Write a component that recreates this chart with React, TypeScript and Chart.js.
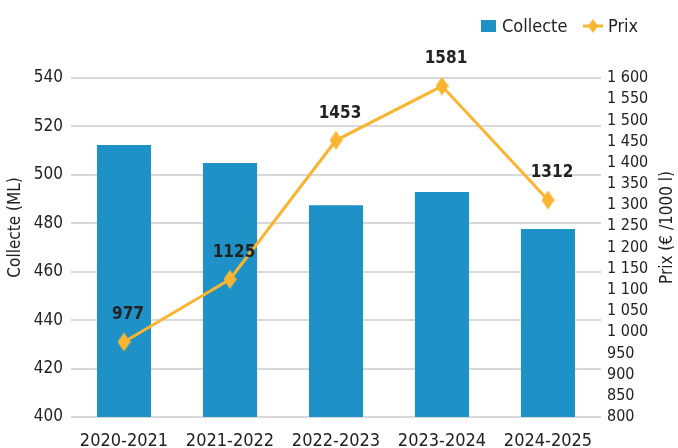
import React, { useEffect, useRef } from "react";
import { Chart, registerables } from "chart.js";

Chart.register(...registerables);

const categories = ["2020-2021", "2021-2022", "2022-2023", "2023-2024", "2024-2025"];
const collecte = [512.3, 504.9, 487.5, 492.9, 477.6];
const prix = [977, 1125, 1453, 1581, 1312];
const leftTitle = "Collecte (ML)";
const rightTitle = "Prix (€ /1000 l)";
const legendLabels = ["Collecte", "Prix"];

const BAR_COLOR = "#1E91C7";
const LINE_COLOR = "#F9B531";
const TEXT = "#222222";
const FONT = "'Liberation Sans Narrow', 'DejaVu Sans Condensed', 'Roboto Condensed', sans-serif";

function makeDiamond(w: number, h: number, color: string) {
  const c = document.createElement("canvas");
  c.width = w;
  c.height = h;
  const ctx = c.getContext("2d")!;
  ctx.fillStyle = color;
  ctx.beginPath();
  ctx.moveTo(w / 2, 0);
  ctx.lineTo(w, h / 2);
  ctx.lineTo(w / 2, h);
  ctx.lineTo(0, h / 2);
  ctx.closePath();
  ctx.fill();
  return c;
}

export default function App() {
  const ref = useRef<HTMLCanvasElement>(null);
  useEffect(() => {
    document.body.style.margin = "0";
    const diamond = makeDiamond(13, 19, LINE_COLOR);

    const extras = {
      id: "extras",
      afterDatasetsDraw(chart: any) {
        const ctx = chart.ctx;
        const meta = chart.getDatasetMeta(0);
        ctx.save();
        ctx.fillStyle = TEXT;
        ctx.font = `bold 17px ${FONT}`;
        ctx.textAlign = "center";
        ctx.textBaseline = "middle";
        meta.data.forEach((pt: any, i: number) => {
          ctx.fillText(String(prix[i]), pt.x + 4, pt.y - 27);
        });
        ctx.restore();
      },
      afterDraw(chart: any) {
        const ctx = chart.ctx;
        const area = chart.chartArea;
        ctx.save();
        ctx.fillStyle = TEXT;
        ctx.font = `17px ${FONT}`;
        ctx.textAlign = "center";
        ctx.textBaseline = "middle";
        const cy = (area.top + area.bottom) / 2 - 20;
        ctx.save();
        ctx.translate(16, cy);
        ctx.rotate(-Math.PI / 2);
        ctx.fillText(leftTitle, 0, 0);
        ctx.restore();
        ctx.save();
        ctx.translate(668, cy);
        ctx.rotate(-Math.PI / 2);
        ctx.fillText(rightTitle, 0, 0);
        ctx.restore();
        // legend
        ctx.font = `18px ${FONT}`;
        ctx.fillStyle = BAR_COLOR;
        ctx.fillRect(481, 20, 15, 12);
        ctx.fillStyle = TEXT;
        ctx.textAlign = "left";
        ctx.fillText(legendLabels[0], 502, 27);
        ctx.strokeStyle = LINE_COLOR;
        ctx.lineWidth = 3;
        ctx.beginPath();
        ctx.moveTo(583, 26);
        ctx.lineTo(603, 26);
        ctx.stroke();
        ctx.drawImage(diamond, 593 - 5, 26 - 7, 10, 14);
        ctx.fillText(legendLabels[1], 608, 27);
        ctx.restore();
      },
    };

    const chart = new Chart(ref.current!, {
      type: "bar",
      data: {
        labels: categories,
        datasets: [
          {
            type: "line",
            label: "Prix",
            data: prix,
            yAxisID: "y1",
            borderColor: LINE_COLOR,
            backgroundColor: LINE_COLOR,
            borderWidth: 3,
            pointStyle: diamond as any,
            pointRadius: 8,
            tension: 0,
            order: 0,
          } as any,
          {
            type: "bar",
            label: "Collecte",
            data: collecte,
            yAxisID: "y",
            backgroundColor: BAR_COLOR,
            barPercentage: 0.51,
            categoryPercentage: 1,
            order: 1,
          },
        ],
      },
      options: {
        animation: false,
        responsive: false,
        maintainAspectRatio: false,
        layout: { padding: { top: 78, left: 0, right: 0, bottom: 0 } },
        plugins: { legend: { display: false }, tooltip: { enabled: false } },
        scales: {
          x: {
            offset: true,
            grid: { display: false },
            border: { display: false },
            ticks: { color: TEXT, font: { family: FONT, size: 18 }, padding: 6, maxRotation: 0 },
            afterFit(s: any) { s.height = 31; },
          },
          y: {
            position: "left",
            min: 400,
            max: 540,
            ticks: { stepSize: 20, color: TEXT, font: { family: FONT, size: 17 }, padding: 8 },
            grid: { color: "#D9D9D9", lineWidth: 2, drawTicks: false },
            border: { display: false },
            afterFit(s: any) { s.width = 71; },
          },
          y1: {
            position: "right",
            min: 800,
            max: 1600,
            grid: { display: false, drawTicks: false },
            border: { display: false },
            ticks: {
              stepSize: 50,
              autoSkip: false,
              color: TEXT,
              font: { family: FONT, size: 16 },
              padding: 6,
              callback: (v: any) => {
                const n = Number(v);
                return n >= 1000 ? `${Math.floor(n / 1000)} ${String(n % 1000).padStart(3, "0")}` : String(n);
              },
            },
            afterFit(s: any) { s.width = 77; },
          },
        },
      } as any,
      plugins: [extras],
    });
    return () => chart.destroy();
  }, []);
  return (
    <div style={{ width: 678, height: 448 }}>
      <canvas ref={ref} width={678} height={448} style={{ width: 678, height: 448, display: "block" }} />
    </div>
  );
}
